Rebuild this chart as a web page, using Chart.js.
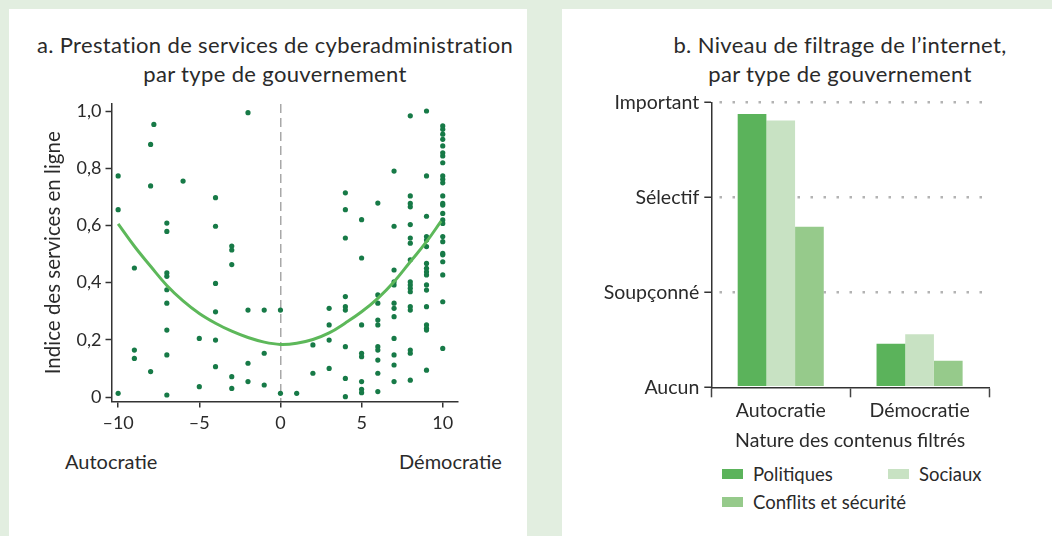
<!DOCTYPE html>
<html>
<head>
<meta charset="utf-8">
<script src="https://cdn.jsdelivr.net/npm/chart.js@4.4.1/dist/chart.umd.min.js"></script>
<style>
  body { margin:0; width:1052px; height:536px; background:#e2eee0; position:relative; overflow:hidden;
         font-family: Lato, sans-serif; color:#2a2a2a; }
  .panel { position:absolute; background:#fff; }
  .title { position:absolute; text-align:center; font-size:22px; letter-spacing:0.35px; line-height:29px; white-space:nowrap; }
  .note { position:absolute; font-size:20px; white-space:nowrap; }
  canvas { position:absolute; }
  #legend { position:absolute; left:722px; top:462px; display:grid; grid-template-columns:166px 140px; row-gap:5px; font-size:18.5px; }
  #legend div { display:flex; align-items:center; height:23px; white-space:nowrap; overflow:visible; }
  #legend span.box { display:inline-block; flex:none; width:21px; height:10px; margin-right:10px; }
</style>
</head>
<body>
<div class="panel" style="left:9px;top:9px;width:518px;height:527px"></div>
<div class="panel" style="left:562px;top:9px;width:490px;height:527px"></div>

<div class="title" style="left:25px;top:30px;width:500px">a. Prestation de services de cyberadministration<br>par type de gouvernement</div>
<div class="title" style="left:640px;top:30px;width:400px">b. Niveau de filtrage de l’internet,<br>par type de gouvernement</div>
<div class="note" style="left:65px;top:449px">Autocratie</div>
<div class="note" style="left:399px;top:449px">Démocratie</div>
<div id="legend"></div>

<canvas id="scatter" width="527" height="536" style="left:0;top:0"></canvas>
<canvas id="bars" width="490" height="536" style="left:562px;top:0"></canvas>

<script>
Chart.defaults.font.family = "Lato";
Chart.defaults.color = "#2a2a2a";

/* a. indice de cyberadministration selon le score polity */
const polityX = [
  -10, -10, -10, -9, -9, -9, -8, -7.8, -8, -8,
  -7, -7, -7, -7, -7, -7, -7, -7, -7, -6,
  -5, -5, -4, -4, -4, -4, -4, -4, -3, -3,
  -3, -3, -3, -2, -2, -2, -2, -1, -1, -1,
  0, 0, 1, 2, 2, 3, 3, 3, 3,
  4, 4, 4, 4, 4, 4, 4, 4, 4,
  5, 5, 5, 5, 5, 5, 5, 5,
  6, 6, 6, 6, 6, 6, 6, 6, 6, 6,
  7, 7, 7, 7, 7, 7, 7, 7, 7, 7, 7, 7,
  8, 8, 8, 8, 8, 8, 8, 8, 8, 8, 8, 8, 8, 8, 8, 8, 8,
  9, 9, 9, 9, 9, 9, 9, 9, 9, 9, 9, 9, 9, 9, 9, 9, 9,
  10, 10, 10, 10, 10, 10, 10, 10, 10, 10, 10, 10, 10,
  10, 10, 10, 10, 10, 10, 10, 10, 10, 10, 10, 10
];
const indiceY = [
  0.773, 0.655, 0.013, 0.451, 0.164, 0.135, 0.883, 0.953, 0.738, 0.089,
  0.608, 0.579, 0.434, 0.422, 0.375, 0.328, 0.234, 0.147, 0.007, 0.755,
  0.205, 0.036, 0.697, 0.597, 0.397, 0.298, 0.199, 0.106, 0.528, 0.514,
  0.463, 0.071, 0.030, 0.994, 0.304, 0.118, 0.054, 0.304, 0.153, 0.042,
  0.304, 0.013, 0.013, 0.182, 0.083, 0.310, 0.252, 0.199, 0.100,
  0.714, 0.655, 0.556, 0.351, 0.316, 0.304, 0.176, 0.065, 0.001,
  0.620, 0.486, 0.252, 0.153, 0.141, 0.054, 0.027, 0.015,
  0.678, 0.357, 0.328, 0.269, 0.252, 0.176, 0.164, 0.129, 0.083, 0.019,
  0.790, 0.597, 0.444, 0.403, 0.392, 0.328, 0.310, 0.281, 0.205, 0.147, 0.112, 0.054,
  0.983, 0.703, 0.677, 0.665, 0.603, 0.556, 0.538, 0.480, 0.403, 0.392, 0.380, 0.368, 0.316, 0.304, 0.164, 0.153, 0.059,
  1.000, 0.773, 0.632, 0.561, 0.549, 0.526, 0.467, 0.450, 0.438, 0.427, 0.392, 0.374, 0.316, 0.252, 0.240, 0.234, 0.094,
  0.948, 0.936, 0.919, 0.901, 0.878, 0.854, 0.843, 0.819, 0.773, 0.761, 0.749, 0.703, 0.677,
  0.671, 0.642, 0.619, 0.607, 0.561, 0.543, 0.502, 0.497, 0.473, 0.427, 0.333, 0.170
];
// courbe de tendance
const courbeX = [-10, -9, -8, -7, -6, -5, -4, -3, -2, -1, 0, 1, 2, 3, 4, 5, 6, 7, 8, 9, 9.9];
const courbeY = [0.605, 0.527, 0.457, 0.390, 0.336, 0.292, 0.258, 0.230, 0.208, 0.192, 0.184,
                 0.188, 0.201, 0.224, 0.259, 0.298, 0.345, 0.403, 0.473, 0.543, 0.615];
const xTicks = [-10, -5, 0, 5, 10];
const yTicks = [0, 0.2, 0.4, 0.6, 0.8, 1.0];

/* b. niveau de filtrage */
const regimes = ["Autocratie", "Démocratie"];
const niveaux = ["Aucun", "Soupçonné", "Sélectif", "Important"];
const politiques = [2.88, 0.46];
const sociaux = [2.81, 0.56];
const conflits = [1.69, 0.28];
const series = ["Politiques", "Sociaux", "Conflits et sécurité"];
const couleurs = ["#5bb35b", "#c8e2c3", "#96ca8b"];

const axe = "#333";

new Chart(document.getElementById("scatter"), {
  data: {
    datasets: [
      { type: "line", data: courbeX.map((x, i) => ({x: x, y: courbeY[i]})),
        borderColor: "#5db85a", borderWidth: 3, pointRadius: 0, tension: 0.4, fill: false },
      { type: "scatter", data: polityX.map((x, i) => ({x: x, y: indiceY[i]})),
        backgroundColor: "#177a47", borderWidth: 0, pointRadius: 2.6 }
    ]
  },
  options: {
    responsive: false, animation: false,
    layout: { padding: { left: 0, right: 69, top: 104, bottom: 89.5 } },
    plugins: { legend: { display: false }, tooltip: { enabled: false } },
    scales: {
      x: {
        type: "linear", min: -10.41, max: 10.94,
        afterBuildTicks: s => { s.ticks = xTicks.map(v => ({value: v})); },
        afterFit: s => { s.height = 45; },
        grid: { color: c => (c.tick && c.tick.value === 0) ? "#a8a8a8" : "rgba(0,0,0,0)",
                lineWidth: 1.5, tickColor: axe, tickLength: 6, tickWidth: 1.5 },
        border: { color: axe, width: 1.5, dash: [9, 5] },
        ticks: { padding: 5, font: { size: 18 },
                 callback: v => v < 0 ? "–" + Math.abs(v) : String(v) }
      },
      y: {
        type: "linear", min: -0.0157, max: 1.0245,
        afterBuildTicks: s => { s.ticks = yTicks.map(v => ({value: v})); },
        afterFit: s => { s.width = 111.5; },
        grid: { drawOnChartArea: false, tickColor: axe, tickLength: 6, tickWidth: 1.5 },
        border: { color: axe, width: 1.5 },
        ticks: { padding: 4, font: { size: 18 },
                 callback: v => v === 0 ? "0" : v.toFixed(1).replace(".", ",") },
        title: { display: true, text: "Indice des services en ligne", font: { size: 20.5 },
                 padding: { top: 41 } }
      }
    }
  }
});

const barChart = new Chart(document.getElementById("bars"), {
  type: "bar",
  data: {
    labels: regimes,
    datasets: [politiques, sociaux, conflits].map((d, i) => ({
      label: series[i], data: d, backgroundColor: couleurs[i], borderWidth: 0,
      barPercentage: 1, categoryPercentage: 0.62
    }))
  },
  options: {
    responsive: false, animation: false,
    layout: { padding: { left: 0, right: 63, top: 102.5, bottom: 78.7 } },
    plugins: { legend: { display: false }, tooltip: { enabled: false } },
    scales: {
      x: {
        afterFit: s => { s.height = 70; },
        grid: { offset: true, drawOnChartArea: false, tickColor: "#444", tickLength: 10, tickWidth: 1.5 },
        border: { color: axe, width: 1.5 },
        ticks: { padding: 2, font: { size: 19.5 } },
        title: { display: true, text: "Nature des contenus filtrés", font: { size: 19.5 },
                 padding: { bottom: 5 } }
      },
      y: {
        min: 0, max: 3,
        afterBuildTicks: s => { s.ticks = niveaux.map((n, i) => ({value: i})); },
        afterFit: s => { s.width = 149.3; },
        grid: { color: c => (c.tick && c.tick.value === 0) ? "rgba(0,0,0,0)" : "#b3b3b3",
                lineWidth: 2.5, tickColor: axe, tickLength: 7, tickWidth: 1.5 },
        border: { color: axe, width: 1.5, dash: [2.5, 10.5], dashOffset: 6 },
        ticks: { padding: 5, font: { size: 19.5 }, callback: v => niveaux[v] }
      }
    }
  }
});

/* légende */
const leg = document.getElementById("legend");
barChart.data.datasets.forEach(ds => {
  const d = document.createElement("div");
  d.innerHTML = '<span class="box" style="background:' + ds.backgroundColor + '"></span>' + ds.label;
  leg.appendChild(d);
});
</script>
</body>
</html>
